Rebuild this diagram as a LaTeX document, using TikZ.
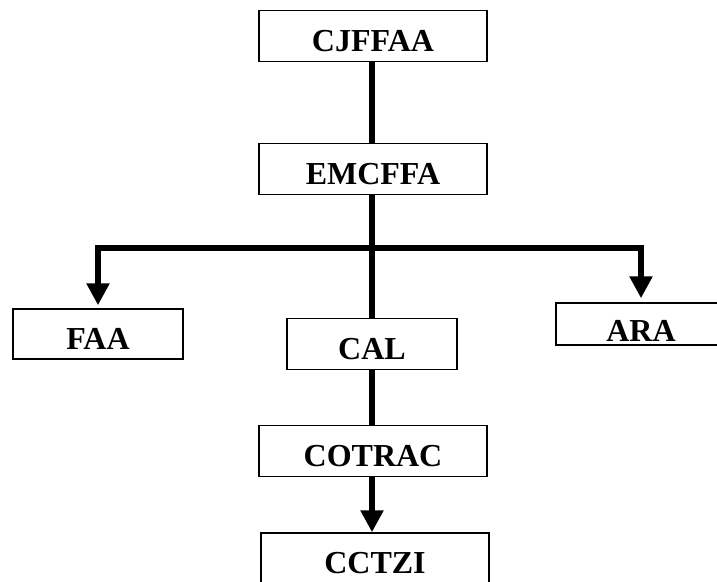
\documentclass[tikz,border=0pt]{standalone}
\usepackage{fontspec}
\setmainfont{Liberation Serif}
\usetikzlibrary{arrows.meta}

\begin{document}
\begin{tikzpicture}[x=1pt, y=-1pt,
  box/.style={draw, line width=1.5pt, inner sep=0pt, font=\fontsize{32}{38}\selectfont\bfseries, text height=31pt, text depth=0pt, minimum width=228pt, minimum height=51pt},
  link/.style={line width=6pt},
  >={Triangle[width=22pt, length=22pt]}]
\useasboundingbox (0,0) rectangle (717,581);
\node[box] (CJFFAA) at (373,36) {CJFFAA};
\node[box] (EMCFFA) at (373,169) {EMCFFA};
\node[box, minimum width=170pt, minimum height=50pt] (FAA) at (98,334) {FAA};
\node[box, minimum width=170pt] (CAL) at (372,344) {CAL};
\node[box, minimum width=170pt, minimum height=42pt, text height=34pt] (ARA) at (641,324) {ARA};
\node[box] (COTRAC) at (373,451) {COTRAC};
\node[box, minimum height=50pt] (CCTZI) at (375,558) {CCTZI};
\coordinate (split) at (372,248);
\draw[link] (CJFFAA.south -| split) -- (EMCFFA.north -| split);
\draw[link] (EMCFFA.south -| split) -- (CAL.north -| split);
\draw[link, ->, shorten >=3pt] (split) -| (FAA.north);
\draw[link, ->, shorten >=4pt] (split) -| (ARA.north);
\draw[link] (CAL.south -| split) -- (COTRAC.north -| split);
\draw[link, ->] (COTRAC.south -| split) -- (CCTZI.north -| split);
\end{tikzpicture}
\end{document}
